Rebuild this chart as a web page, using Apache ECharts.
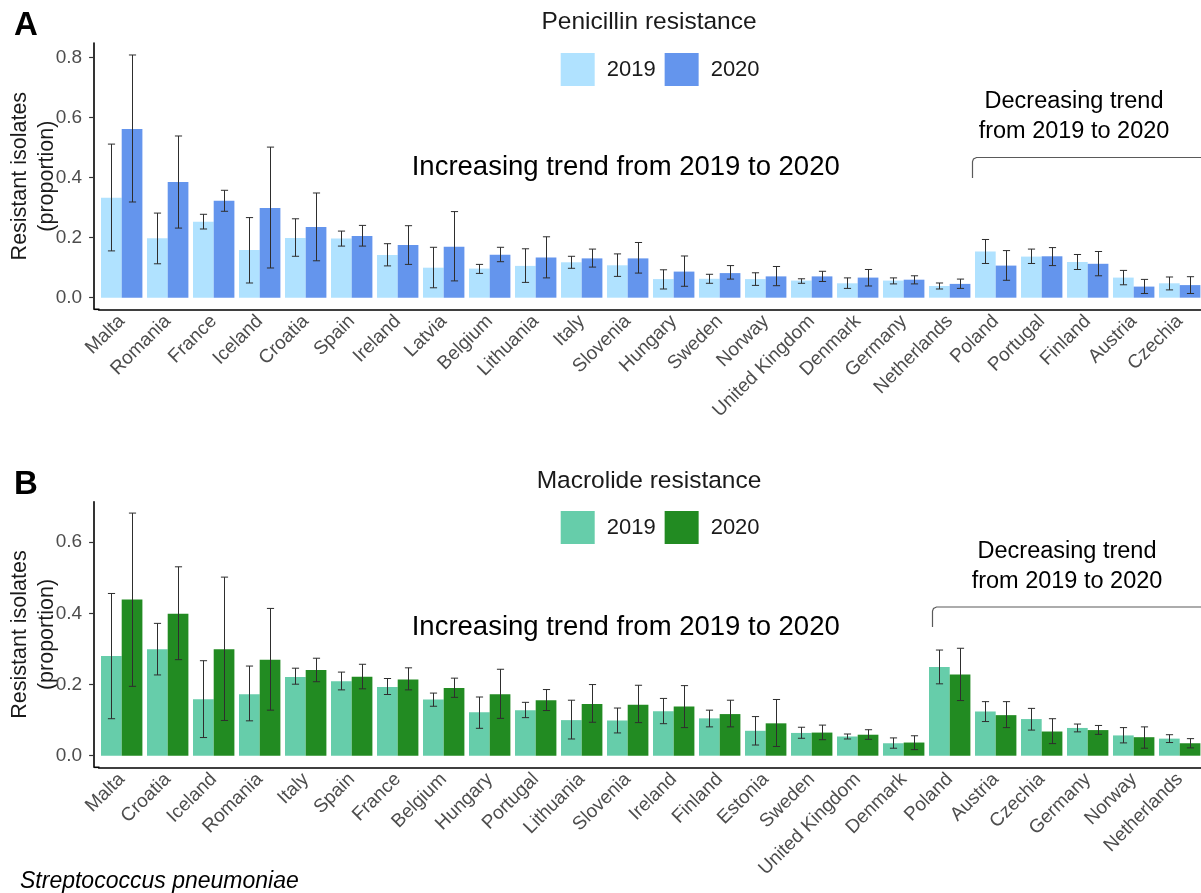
<!DOCTYPE html>
<html>
<head>
<meta charset="utf-8">
<script src="https://cdn.jsdelivr.net/npm/echarts@6/dist/echarts.min.js"></script>
<style>
  html, body { margin: 0; padding: 0; background: #ffffff; }
  #panelA { position: absolute; left: 0; top: 0; width: 1201px; height: 450px; }
  #panelB { position: absolute; left: 0; top: 450px; width: 1201px; height: 443px; }
</style>
</head>
<body>
<div id="panelA"></div>
<div id="panelB"></div>
<script>
// ---- Penicillin resistance (proportion of resistant isolates) ----
const penCountries = ['Malta', 'Romania', 'France', 'Iceland', 'Croatia', 'Spain', 'Ireland', 'Latvia',
  'Belgium', 'Lithuania', 'Italy', 'Slovenia', 'Hungary', 'Sweden', 'Norway', 'United Kingdom',
  'Denmark', 'Germany', 'Netherlands', 'Poland', 'Portugal', 'Finland', 'Austria', 'Czechia'];
const pen2019 = [0.333, 0.198, 0.253, 0.159, 0.199, 0.197, 0.142, 0.100, 0.097, 0.106, 0.118, 0.108,
  0.062, 0.063, 0.062, 0.057, 0.048, 0.057, 0.039, 0.154, 0.137, 0.119, 0.067, 0.048];
const pen2019Low = [0.156, 0.113, 0.229, 0.049, 0.138, 0.172, 0.106, 0.033, 0.081, 0.051, 0.098, 0.071,
  0.029, 0.048, 0.041, 0.048, 0.031, 0.046, 0.029, 0.114, 0.114, 0.094, 0.043, 0.026];
const pen2019High = [0.512, 0.282, 0.278, 0.267, 0.263, 0.222, 0.180, 0.168, 0.111, 0.163, 0.138, 0.146,
  0.093, 0.078, 0.083, 0.063, 0.066, 0.066, 0.049, 0.194, 0.162, 0.144, 0.091, 0.069];
const pen2020 = [0.562, 0.386, 0.323, 0.299, 0.236, 0.206, 0.176, 0.170, 0.143, 0.134, 0.131, 0.131,
  0.087, 0.082, 0.071, 0.071, 0.067, 0.060, 0.046, 0.107, 0.138, 0.113, 0.037, 0.042];
const pen2020Low = [0.319, 0.232, 0.288, 0.099, 0.123, 0.172, 0.111, 0.056, 0.120, 0.066, 0.102, 0.082,
  0.038, 0.062, 0.040, 0.054, 0.039, 0.046, 0.031, 0.058, 0.107, 0.073, 0.014, 0.014];
const pen2020High = [0.809, 0.539, 0.358, 0.502, 0.349, 0.241, 0.240, 0.287, 0.168, 0.203, 0.162, 0.184,
  0.139, 0.107, 0.104, 0.088, 0.094, 0.073, 0.062, 0.157, 0.167, 0.154, 0.061, 0.070];
const penTicks = [0, 0.2, 0.4, 0.6, 0.8];

// ---- Macrolide resistance (proportion of resistant isolates) ----
const macCountries = ['Malta', 'Croatia', 'Iceland', 'Romania', 'Italy', 'Spain', 'France', 'Belgium',
  'Hungary', 'Portugal', 'Lithuania', 'Slovenia', 'Ireland', 'Finland', 'Estonia', 'Sweden',
  'United Kingdom', 'Denmark', 'Poland', 'Austria', 'Czechia', 'Germany', 'Norway', 'Netherlands'];
const mac2019 = [0.280, 0.299, 0.159, 0.173, 0.221, 0.209, 0.193, 0.158, 0.122, 0.128, 0.100, 0.099,
  0.125, 0.105, 0.070, 0.064, 0.054, 0.035, 0.249, 0.124, 0.103, 0.078, 0.057, 0.048];
const mac2019Low = [0.104, 0.227, 0.051, 0.098, 0.201, 0.185, 0.172, 0.139, 0.077, 0.107, 0.047, 0.064,
  0.090, 0.081, 0.030, 0.049, 0.047, 0.021, 0.202, 0.096, 0.072, 0.067, 0.036, 0.037];
const mac2019High = [0.456, 0.372, 0.267, 0.252, 0.246, 0.235, 0.217, 0.176, 0.165, 0.150, 0.156, 0.134,
  0.161, 0.128, 0.110, 0.080, 0.061, 0.050, 0.297, 0.152, 0.133, 0.089, 0.079, 0.059];
const mac2020 = [0.439, 0.399, 0.299, 0.270, 0.241, 0.222, 0.214, 0.190, 0.173, 0.156, 0.145, 0.143,
  0.138, 0.117, 0.091, 0.065, 0.059, 0.037, 0.228, 0.114, 0.068, 0.072, 0.052, 0.035];
const mac2020Low = [0.195, 0.270, 0.099, 0.128, 0.208, 0.188, 0.185, 0.164, 0.105, 0.127, 0.094, 0.093,
  0.079, 0.081, 0.026, 0.045, 0.046, 0.017, 0.155, 0.079, 0.034, 0.060, 0.021, 0.022];
const mac2020High = [0.682, 0.531, 0.502, 0.414, 0.274, 0.257, 0.247, 0.218, 0.243, 0.186, 0.200, 0.198,
  0.197, 0.156, 0.158, 0.086, 0.073, 0.056, 0.302, 0.152, 0.104, 0.085, 0.081, 0.048];
const macTicks = [0, 0.2, 0.4, 0.6];

const FONT = '"Liberation Sans", Arial, Helvetica, sans-serif';
const TEXT = '#1a1a1a';
const GREY = '#4d4d4d';

// Vertical interval with caps, dodged left (-1) or right (+1) of the category centre.
function errorBars(name, lows, highs, side) {
  return {
    type: 'custom',
    name: name,
    silent: true,
    z: 5,
    data: lows.map((lo, i) => [i, lo, highs[i]]),
    encode: { x: 0, y: [1, 2] },
    renderItem: function (params, api) {
      const band = api.size([1, 0])[0];
      const lo = api.coord([api.value(0), api.value(1)]);
      const hi = api.coord([api.value(0), api.value(2)]);
      const x = Math.round(lo[0] + side * band * 0.225) + 0.5;
      const cap = band * 0.078;
      const style = { stroke: '#2e2e2e', lineWidth: 1 };
      return {
        type: 'group',
        children: [
          { type: 'line', shape: { x1: x, y1: hi[1], x2: x, y2: lo[1] }, style: style },
          { type: 'line', shape: { x1: x - cap, y1: hi[1], x2: x + cap, y2: hi[1] }, style: style },
          { type: 'line', shape: { x1: x - cap, y1: lo[1], x2: x + cap, y2: lo[1] }, style: style }
        ]
      };
    }
  };
}

function buildPanel(el, cfg) {
  const chart = echarts.init(el, null, { renderer: 'canvas' });
  const option = {
    animation: false,
    backgroundColor: '#ffffff',
    textStyle: { fontFamily: FONT },
    grid: { left: 98.7, width: 1104, top: cfg.gridTop, height: cfg.gridHeight,
            containLabel: false, outerBoundsMode: 'none' },
    legend: {
      data: ['2019', '2020'],
      left: 560.7, top: cfg.legendTop, padding: 0,
      icon: 'rect', itemWidth: 34, itemHeight: 33, itemGap: 9,
      selectedMode: false,
      textStyle: { fontSize: 22, color: TEXT, fontFamily: FONT, padding: [0, 0, 0, 7] }
    },
    xAxis: {
      type: 'category',
      data: cfg.categories,
      axisLine: { onZero: false, lineStyle: { color: '#000000', width: 1.6 } },
      axisTick: { alignWithLabel: true, length: 5, lineStyle: { color: '#333333', width: 1.2 } },
      axisLabel: { interval: 0, rotate: 45, margin: 9, fontSize: 19, color: GREY, fontFamily: FONT },
      splitLine: { show: false }
    },
    yAxis: {
      type: 'value',
      min: cfg.yMin, max: cfg.yMax,
      offset: 4.6,
      name: 'Resistant isolates\n(proportion)',
      nameLocation: 'middle',
      nameRotate: 90,
      nameGap: 34,
      nameMoveOverlap: false,
      nameTextStyle: { fontSize: 21.5, color: TEXT, lineHeight: 26.5, fontFamily: FONT, align: 'center' },
      axisLine: { show: true, lineStyle: { color: '#000000', width: 1.6 } },
      axisTick: { show: true, length: 5, customValues: cfg.ticks, lineStyle: { color: '#333333', width: 1.2 } },
      axisLabel: {
        customValues: cfg.ticks, margin: 12, fontSize: 19, color: GREY, fontFamily: FONT,
        formatter: v => Number(v).toFixed(1)
      },
      splitLine: { show: false }
    },
    series: [
      { type: 'bar', name: '2019', data: cfg.v2019, itemStyle: { color: cfg.c2019 },
        barGap: '0%', barCategoryGap: '10%', z: 2 },
      { type: 'bar', name: '2020', data: cfg.v2020, itemStyle: { color: cfg.c2020 },
        barGap: '0%', barCategoryGap: '10%', z: 2 },
      errorBars('2019 interval', cfg.lo2019, cfg.hi2019, -1),
      errorBars('2020 interval', cfg.lo2020, cfg.hi2020, 1)
    ]
  };
  chart.setOption(option);

  // Annotations placed relative to the category axis
  const px = i => chart.convertToPixel({ xAxisIndex: 0 }, cfg.categories[i]);
  const bx = Math.round((px(cfg.splitAt - 1) + px(cfg.splitAt)) / 2 + cfg.bracketNudge) + 0.5;
  const yAxisX = 98.7 - 4.6;
  const axisY = cfg.gridTop + cfg.gridHeight;
  const bt = cfg.bracketTop;
  const graphics = [
    { type: 'text', x: 14, y: cfg.letterY,
      style: { text: cfg.letter, font: 'bold 33px ' + FONT, fill: '#000000', verticalAlign: 'middle' } },
    { type: 'text', x: 649, y: cfg.titleY,
      style: { text: cfg.title, font: '24.5px ' + FONT, fill: TEXT, align: 'center', verticalAlign: 'middle' } },
    { type: 'text', x: 411.7, y: cfg.incY,
      style: { text: 'Increasing trend from 2019 to 2020', font: '27.5px ' + FONT, fill: '#000000',
               align: 'left', verticalAlign: 'middle' } },
    { type: 'text', x: cfg.decX, y: 116.7,
      style: { text: 'Decreasing trend\nfrom 2019 to 2020', font: '23.5px ' + FONT, fill: '#000000',
               align: 'center', verticalAlign: 'middle', lineHeight: 30 } },
    { type: 'polyline', silent: true,
      shape: { points: [[bx, cfg.bracketBottom], [bx, bt + 4], [bx + 1, bt + 1.5], [bx + 4, bt], [1215, bt]] },
      style: { stroke: '#5a5a5a', lineWidth: 1.2, fill: null } },
    // join the x axis line to the y axis line at the corner
    { type: 'line', silent: true,
      shape: { x1: yAxisX, y1: axisY, x2: 99.5, y2: axisY },
      style: { stroke: '#000000', lineWidth: 1.6 } }
  ];
  if (cfg.footnote) {
    graphics.push({ type: 'text', x: 20, y: cfg.footnoteY,
      style: { text: cfg.footnote, font: 'italic 23px ' + FONT, fill: '#000000', verticalAlign: 'middle' } });
  }
  chart.setOption({ graphic: graphics });
  return chart;
}

buildPanel(document.getElementById('panelA'), {
  letter: 'A', letterY: 26, title: 'Penicillin resistance', titleY: 22, legendTop: 53,
  categories: penCountries, ticks: penTicks,
  v2019: pen2019, lo2019: pen2019Low, hi2019: pen2019High,
  v2020: pen2020, lo2020: pen2020Low, hi2020: pen2020High,
  c2019: '#b0e2ff', c2020: '#6495ed',
  gridTop: 43, gridHeight: 266.3, yMin: -0.0387, yMax: 0.849,
  incY: 167.5, decX: 1074, splitAt: 19, bracketNudge: -1, bracketTop: 157.5, bracketBottom: 178
});

buildPanel(document.getElementById('panelB'), {
  letter: 'B', letterY: 35, title: 'Macrolide resistance', titleY: 31, legendTop: 61,
  categories: macCountries, ticks: macTicks,
  v2019: mac2019, lo2019: mac2019Low, hi2019: mac2019High,
  v2020: mac2020, lo2020: mac2020Low, hi2020: mac2020High,
  c2019: '#66cdaa', c2020: '#228b22',
  gridTop: 51.7, gridHeight: 265.6, yMin: -0.0326, yMax: 0.714,
  incY: 177, decX: 1067, splitAt: 18, bracketNudge: 5, bracketTop: 157, bracketBottom: 177,
  footnote: 'Streptococcus pneumoniae', footnoteY: 432
});
</script>
</body>
</html>
